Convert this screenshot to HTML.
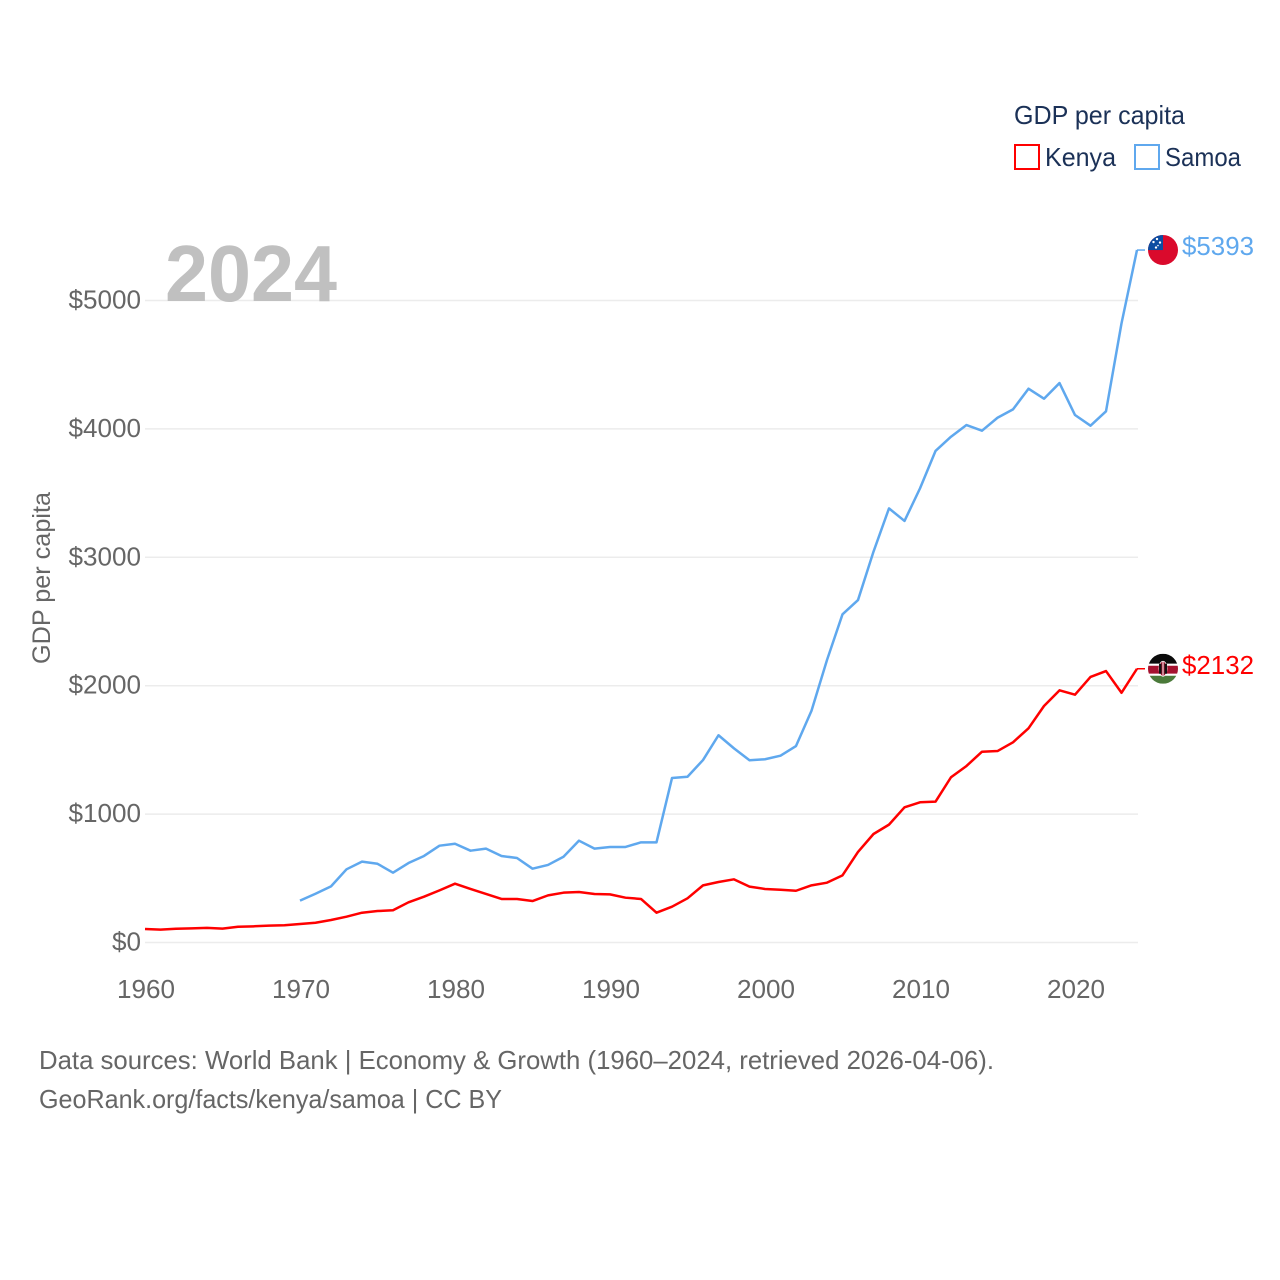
<!DOCTYPE html>
<html lang="en">
<head>
<meta charset="utf-8">
<title>GDP per capita: Kenya and Samoa</title>
<style>
  html, body { margin: 0; padding: 0; background: #fff; }
  svg { display: block; font-family: "Liberation Sans", sans-serif; }
</style>
</head>
<body>
<svg id="chart" xmlns="http://www.w3.org/2000/svg" width="1280" height="1280" viewBox="0 0 1280 1280">
  <defs>
    <clipPath id="flag-clip"><circle cx="0" cy="0" r="15"></circle></clipPath>
  </defs>
  <rect x="0" y="0" width="1280" height="1280" fill="#ffffff"></rect>

  <g id="grid"></g>
  <text x="165" y="301" font-size="80" font-weight="700" fill="#c0c0c0" textLength="172" lengthAdjust="spacingAndGlyphs">2024</text>
  <g id="y-ticks"></g>
  <g id="x-ticks"></g>
  <text transform="translate(50 664) rotate(-90)" font-size="25" fill="#666666" textLength="172" lengthAdjust="spacingAndGlyphs">GDP per capita</text>

  <g id="series"></g>

  <g id="flag-samoa" clip-path="url(#flag-clip)">
    <rect x="-15" y="-15" width="30" height="30" fill="#da0a2c"></rect>
    <rect x="-15" y="-15" width="15" height="15" fill="#0c4da2"></rect>
    <circle cx="-6" cy="-11" r="1.2" fill="#ffffff"></circle>
    <circle cx="-9.5" cy="-8" r="1.2" fill="#ffffff"></circle>
    <circle cx="-3" cy="-7.5" r="1.2" fill="#ffffff"></circle>
    <circle cx="-5" cy="-4.5" r="0.8" fill="#ffffff"></circle>
    <circle cx="-7" cy="-2.5" r="1.2" fill="#ffffff"></circle>
  </g>
  <g id="flag-kenya" clip-path="url(#flag-clip)">
    <rect x="-15" y="-15" width="30" height="10" fill="#0b0b0b"></rect>
    <rect x="-15" y="-5" width="30" height="2" fill="#ffffff"></rect>
    <rect x="-15" y="-3" width="30" height="8" fill="#a5122f"></rect>
    <rect x="-15" y="5" width="30" height="2" fill="#ffffff"></rect>
    <rect x="-15" y="7" width="30" height="8" fill="#4b7a3a"></rect>
    <ellipse cx="0" cy="0" rx="4" ry="7.5" fill="#a5122f" stroke="#ffffff" stroke-width="0.8"></ellipse>
    <rect x="-4" y="-5" width="2.5" height="10" fill="#111111"></rect>
    <rect x="1.5" y="-5" width="2.5" height="10" fill="#111111"></rect>
    <rect x="-0.5" y="-7" width="1" height="14" fill="#ffffff"></rect>
  </g>
  <text id="value-samoa" x="1182" font-size="26" fill="#5fa8ee" textLength="72" lengthAdjust="spacingAndGlyphs"></text>
  <text id="value-kenya" x="1182" font-size="26" fill="#ff0000" textLength="72" lengthAdjust="spacingAndGlyphs"></text>

  <g>
    <text x="1014" y="124" font-size="26" fill="#1b3157" textLength="171" lengthAdjust="spacingAndGlyphs">GDP per capita</text>
    <g>
      <rect x="1015" y="145" width="24" height="24" fill="none" stroke="#ff0000" stroke-width="2"></rect>
      <text x="1045" y="166" font-size="26" fill="#1b3157" textLength="71" lengthAdjust="spacingAndGlyphs">Kenya</text>
    </g>
    <g>
      <rect x="1135" y="145" width="24" height="24" fill="none" stroke="#5fa8ee" stroke-width="2"></rect>
      <text x="1165" y="166" font-size="26" fill="#1b3157" textLength="76" lengthAdjust="spacingAndGlyphs">Samoa</text>
    </g>
  </g>

  <g>
    <text x="39" y="1069" font-size="26" fill="#666666" textLength="955" lengthAdjust="spacingAndGlyphs">Data sources: World Bank | Economy &amp; Growth (1960–2024, retrieved 2026-04-06).</text>
    <text x="39" y="1108" font-size="26" fill="#666666" textLength="463" lengthAdjust="spacingAndGlyphs">GeoRank.org/facts/kenya/samoa | CC BY</text>
  </g>
</svg>
<script>
const yTickValues = [0, 1000, 2000, 3000, 4000, 5000];
const yTickLabels = ["$0", "$1000", "$2000", "$3000", "$4000", "$5000"];
const xTickValues = [1960, 1970, 1980, 1990, 2000, 2010, 2020];
const xTickLabels = ["1960", "1970", "1980", "1990", "2000", "2010", "2020"];
const kenyaStartYear = 1960;
const kenyaValues = [105, 100, 107, 110, 114, 108, 123, 126, 131, 134, 144, 154, 175, 201, 232, 245, 251, 313, 357, 406, 458, 417, 378, 339, 339, 323, 367, 388, 393, 378, 375, 349, 339, 232, 279, 344, 445, 471, 492, 435, 417, 411, 403, 445, 466, 523, 705, 845, 918, 1053, 1092, 1097, 1287, 1375, 1486, 1491, 1559, 1668, 1842, 1964, 1930, 2068, 2114, 1945, 2132];
const samoaStartYear = 1970;
const samoaValues = [326, 380, 437, 570, 630, 613, 544, 619, 674, 754, 769, 715, 731, 674, 658, 575, 604, 668, 793, 731, 744, 744, 780, 780, 1281, 1291, 1421, 1614, 1512, 1419, 1427, 1455, 1530, 1805, 2200, 2556, 2667, 3044, 3381, 3283, 3537, 3828, 3939, 4030, 3986, 4087, 4152, 4313, 4235, 4357, 4108, 4025, 4137, 4822, 5393];

const NS = "http://www.w3.org/2000/svg";
const xLeft = 145, xRight = 1137, yZero = 942.5, yTop = 300.5;
function xScale(year) { return xLeft + (year - 1960) * (xRight - xLeft) / 64; }
function yScale(value) { return yZero - value * (yZero - yTop) / 5000; }
function linePath(values, startYear) {
  return values.map(function (v, i) {
    return (i ? "L" : "M") + xScale(startYear + i).toFixed(2) + " " + yScale(v).toFixed(2);
  }).join(" ");
}

const gridGroup = document.getElementById("grid");
const yTickGroup = document.getElementById("y-ticks");
yTickValues.forEach(function (v, i) {
  const line = document.createElementNS(NS, "line");
  
  
  line.setAttribute("x1", xLeft);
  line.setAttribute("x2", xRight + 1);
  line.setAttribute("y1", yScale(v));
  line.setAttribute("y2", yScale(v));
  line.setAttribute("stroke", "#ececec");
  line.setAttribute("stroke-width", "1.5");
  gridGroup.appendChild(line);

  const label = document.createElementNS(NS, "text");
  
  
  label.setAttribute("x", 141);
  label.setAttribute("y", yScale(v) + 8);
  label.setAttribute("text-anchor", "end");
  label.setAttribute("font-size", "26");
  label.setAttribute("fill", "#666666");
  label.setAttribute("textLength", 14.5 * yTickLabels[i].length);
  label.setAttribute("lengthAdjust", "spacingAndGlyphs");
  label.textContent = yTickLabels[i];
  yTickGroup.appendChild(label);
});

const xTickGroup = document.getElementById("x-ticks");
xTickValues.forEach(function (year, i) {
  const label = document.createElementNS(NS, "text");
  
  
  label.setAttribute("x", xScale(year) + 1);
  label.setAttribute("y", 998);
  label.setAttribute("text-anchor", "middle");
  label.setAttribute("font-size", "26");
  label.setAttribute("fill", "#666666");
  label.setAttribute("textLength", "58");
  label.setAttribute("lengthAdjust", "spacingAndGlyphs");
  label.textContent = xTickLabels[i];
  xTickGroup.appendChild(label);
});

const seriesGroup = document.getElementById("series");

const kenyaLine = document.createElementNS(NS, "path");


kenyaLine.setAttribute("d", linePath(kenyaValues, kenyaStartYear));
kenyaLine.setAttribute("fill", "none");
kenyaLine.setAttribute("stroke", "#ff0000");
kenyaLine.setAttribute("stroke-width", "2.5");
kenyaLine.setAttribute("stroke-linejoin", "round");
seriesGroup.appendChild(kenyaLine);

const samoaLine = document.createElementNS(NS, "path");


samoaLine.setAttribute("d", linePath(samoaValues, samoaStartYear));
samoaLine.setAttribute("fill", "none");
samoaLine.setAttribute("stroke", "#5fa8ee");
samoaLine.setAttribute("stroke-width", "2.5");
samoaLine.setAttribute("stroke-linejoin", "round");
seriesGroup.appendChild(samoaLine);

const kenyaLast = kenyaValues[kenyaValues.length - 1];
const samoaLast = samoaValues[samoaValues.length - 1];

const kenyaConnector = document.createElementNS(NS, "line");


kenyaConnector.setAttribute("x1", xRight);
kenyaConnector.setAttribute("x2", xRight + 8);
kenyaConnector.setAttribute("y1", yScale(kenyaLast));
kenyaConnector.setAttribute("y2", yScale(kenyaLast));
kenyaConnector.setAttribute("stroke", "#ff0000");
kenyaConnector.setAttribute("stroke-width", "1.5");
seriesGroup.appendChild(kenyaConnector);

const samoaConnector = document.createElementNS(NS, "line");


samoaConnector.setAttribute("x1", xRight);
samoaConnector.setAttribute("x2", xRight + 8);
samoaConnector.setAttribute("y1", yScale(samoaLast));
samoaConnector.setAttribute("y2", yScale(samoaLast));
samoaConnector.setAttribute("stroke", "#5fa8ee");
samoaConnector.setAttribute("stroke-width", "1.5");
seriesGroup.appendChild(samoaConnector);

document.getElementById("flag-samoa").setAttribute("transform", "translate(1163 " + yScale(samoaLast) + ")");
document.getElementById("flag-kenya").setAttribute("transform", "translate(1163 " + yScale(kenyaLast) + ")");

const samoaLabel = document.getElementById("value-samoa");
samoaLabel.setAttribute("y", yScale(samoaLast) + 5);
samoaLabel.textContent = "$" + samoaLast;

const kenyaLabel = document.getElementById("value-kenya");
kenyaLabel.setAttribute("y", yScale(kenyaLast) + 5);
kenyaLabel.textContent = "$" + kenyaLast;
</script>
</body>
</html>
